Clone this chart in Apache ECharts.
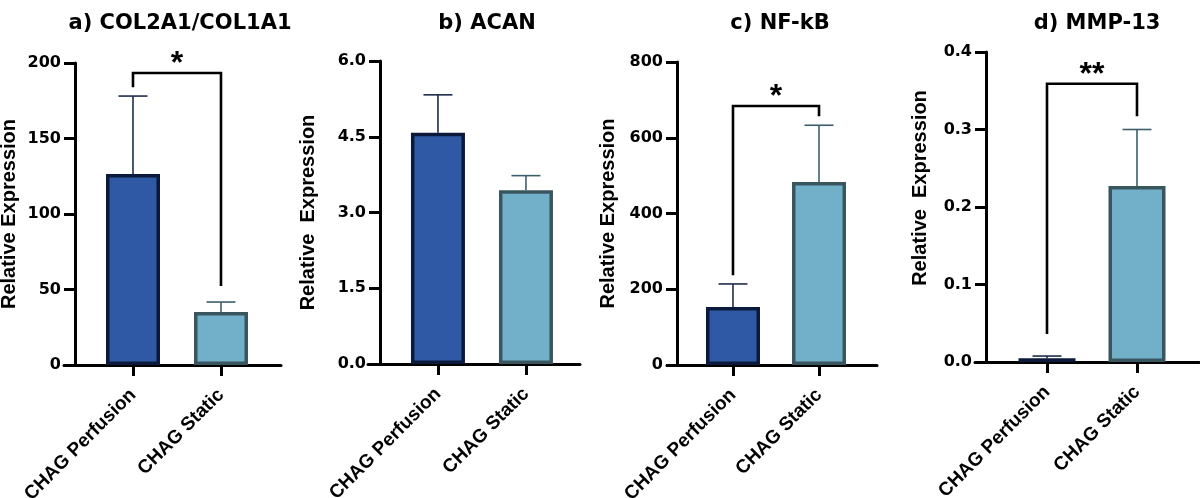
<!DOCTYPE html>
<html><head><meta charset="utf-8">
<script src="https://cdn.jsdelivr.net/npm/echarts@6/dist/echarts.min.js"></script>
<style>html,body{margin:0;padding:0;background:#fff}#c{width:1200px;height:498px}</style>
</head><body><div id="c"></div>
<script>
// ---------- data ----------
const categories = ['CHAG Perfusion', 'CHAG Static'];
const panelTitles = ['a) COL2A1/COL1A1', 'b) ACAN', 'c) NF-kB', 'd) MMP-13'];
const yAxisTitles = ['Relative Expression', 'Relative  Expression', 'Relative Expression', 'Relative  Expression'];

const col2a1Mean = [126.5, 35.1];
const col2a1SD   = [51.6, 6.6];
const acanMean   = [4.58, 3.44];
const acanSD     = [0.75, 0.29];
const nfkbMean   = [153, 483];
const nfkbSD     = [61, 150];
const mmp13Mean  = [0.005, 0.227];
const mmp13SD    = [0.0027, 0.073];

const yMax      = [200, 6, 800, 0.4];
const yInterval = [50, 1.5, 200, 0.1];
const yDecimals = [0, 1, 0, 1];

// significance bracket: [bracket level, left leg end, right leg end]
const col2a1Sig = [193.4, 184, 52.3];
const acanSig   = null;
const nfkbSig   = [684, 237, 657];
const mmp13Sig  = [0.359, 0.036, 0.317];
const sigLabels = ['*', '', '*', '**'];

const means = [col2a1Mean, acanMean, nfkbMean, mmp13Mean];
const sds   = [col2a1SD, acanSD, nfkbSD, mmp13SD];
const sigs  = [col2a1Sig, acanSig, nfkbSig, mmp13Sig];

// ---------- style / layout ----------
const fillColors   = ['#2f58a5', '#72b0c9'];
const borderColors = ['#0b1a3a', '#39565f'];
const errColors    = ['#1e2d4c', '#3d5f6b'];
const layout = [
  {left: 64,  right: 919, top: 63, bottom: 133, yOffset: -11, xMin: -0.784, xMax: 1.682, barW: 54, nameGap: 56, namePad: 0,  titleX: 175},
  {left: 368, right: 620, top: 61, bottom: 134, yOffset: -12, xMin: -0.795, xMax: 1.614, barW: 54, nameGap: 62, namePad: 0,  titleX: 482},
  {left: 667, right: 323, top: 62, bottom: 133, yOffset: -10, xMin: -0.767, xMax: 1.674, barW: 54, nameGap: 59, namePad: 0,  titleX: 775},
  {left: 975, right: 1,   top: 52, bottom: 136, yOffset: -11, xMin: -0.8,   xMax: 1.689, barW: 57, nameGap: 56, namePad: 38, titleX: 1092}
];
const HFONT = 'DejaVu Sans';
const RFONT = 'Liberation Sans';

const chart = echarts.init(document.getElementById('c'), null, {renderer: 'canvas'});

const grids = [], xAxes = [], yAxes = [], series = [], titles = [];
layout.forEach((L, i) => {
  grids.push({left: L.left, right: L.right, top: L.top, bottom: L.bottom,
    containLabel: false, outerBoundsMode: 'none'});
  titles.push({
    text: panelTitles[i], left: L.titleX, top: 8, textAlign: 'center',
    textStyle: {fontFamily: HFONT, fontWeight: 'bold', fontSize: 21, color: '#000'}
  });
  xAxes.push({
    type: 'value', gridIndex: i, min: L.xMin, max: L.xMax,
    axisLine: {show: true, onZero: false, lineStyle: {color: '#000', width: 3}},
    axisTick: {show: true, customValues: [0, 1], length: 11, lineStyle: {color: '#000', width: 3}},
    axisLabel: {
      show: true, customValues: [0, 1], formatter: v => categories[Math.round(v)],
      rotate: 45, margin: 27, color: '#000', fontFamily: RFONT, fontWeight: 'bold', fontSize: 19
    },
    splitLine: {show: false}
  });
  yAxes.push({
    type: 'value', gridIndex: i, min: 0, max: yMax[i], interval: yInterval[i], offset: L.yOffset,
    axisLine: {show: true, onZero: false, lineStyle: {color: '#000', width: 3}},
    axisTick: {show: true, length: 11, lineStyle: {color: '#000', width: 3}},
    axisLabel: {
      margin: 14, color: '#000', fontFamily: HFONT, fontWeight: 'bold', fontSize: 16,
      formatter: v => v.toFixed(yDecimals[i])
    },
    splitLine: {show: false},
    name: yAxisTitles[i], nameLocation: 'middle', nameGap: L.nameGap,
    nameTextStyle: {fontFamily: RFONT, fontWeight: 'bold', fontSize: 20, color: '#000',
      padding: [0, 0, 0, L.namePad]}
  });

  // error bars (upper only)
  series.push({
    type: 'custom', xAxisIndex: i, yAxisIndex: i, silent: true, z: 1,
    data: means[i].map((m, k) => [k, m, sds[i][k]]),
    renderItem: (params, api) => {
      const x = api.value(0), m = api.value(1), sd = api.value(2);
      const base = api.coord([x, m]);
      const top = api.coord([x, m + sd]);
      const half = 14.5;
      const c = errColors[params.dataIndex];
      return {type: 'group', children: [
        {type: 'line', shape: {x1: base[0], y1: base[1], x2: top[0], y2: top[1]}, style: {stroke: c, lineWidth: 1.6}},
        {type: 'line', shape: {x1: top[0] - half, y1: top[1], x2: top[0] + half, y2: top[1]}, style: {stroke: c, lineWidth: 1.6}}
      ]};
    }
  });

  // bars
  series.push({
    type: 'bar', xAxisIndex: i, yAxisIndex: i, silent: true, z: 2, barWidth: L.barW,
    data: means[i].map((m, k) => ({
      value: [k, m],
      itemStyle: {color: fillColors[k], borderColor: borderColors[k], borderWidth: 3.5}
    }))
  });

  // significance bracket
  if (sigs[i]) {
    series.push({
      type: 'custom', xAxisIndex: i, yAxisIndex: i, silent: true, z: 3,
      data: [[0, 1, sigs[i][0], sigs[i][1], sigs[i][2]]],
      renderItem: (params, api) => {
        const x0 = api.value(0), x1 = api.value(1), lvl = api.value(2), l = api.value(3), r = api.value(4);
        const pL = api.coord([x0, l]), pTL = api.coord([x0, lvl]);
        const pTR = api.coord([x1, lvl]), pR = api.coord([x1, r]);
        return {type: 'group', children: [
          {type: 'polyline', shape: {points: [pL, pTL, pTR, pR]},
            style: {stroke: '#000', lineWidth: 2.6, fill: null, lineJoin: 'miter'}},
          {type: 'text', style: {text: sigLabels[i], x: (pTL[0] + pTR[0]) / 2, y: pTL[1] + 7,
            textAlign: 'center', textVerticalAlign: 'bottom', fill: '#000',
            font: 'bold 32px "Liberation Sans"'}}
        ]};
      }
    });
  }
});

chart.setOption({
  animation: false,
  backgroundColor: '#fff',
  title: titles,
  grid: grids,
  xAxis: xAxes,
  yAxis: yAxes,
  series: series
});
</script></body></html>
